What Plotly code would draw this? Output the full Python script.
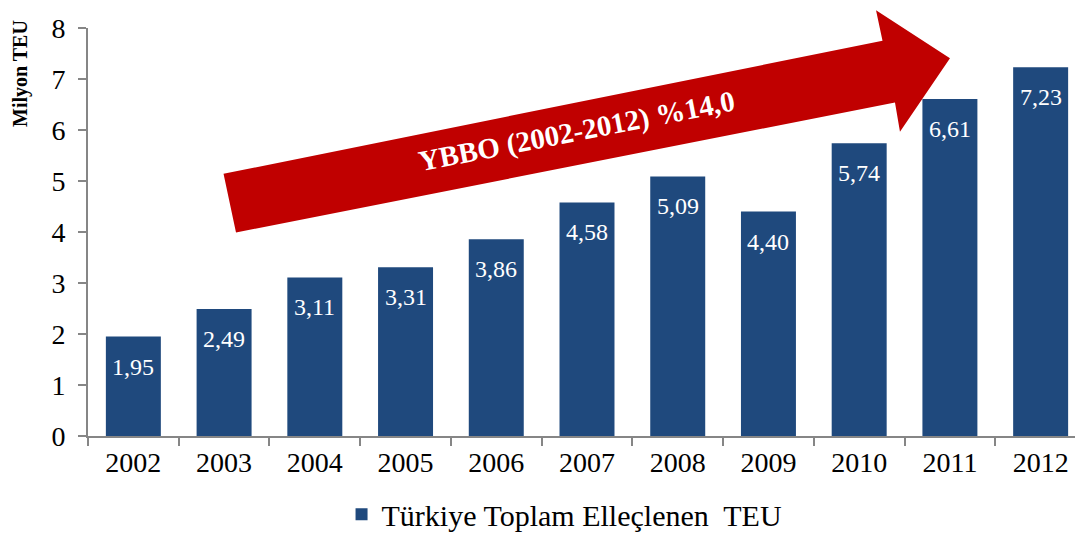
import plotly.graph_objects as go

# --- Dados ---
years = ['2002', '2003', '2004', '2005', '2006', '2007', '2008', '2009', '2010', '2011', '2012']
teu = [1.95, 2.49, 3.11, 3.31, 3.86, 4.58, 5.09, 4.40, 5.74, 6.61, 7.23]
series_name = 'Türkiye Toplam Elleçlenen  TEU'
arrow_label = 'YBBO (2002-2012) %14,0'
y_title = 'Milyon TEU'

BAR_COLOR = '#1F497D'
ARROW_COLOR = '#C00000'
AXIS_COLOR = '#868686'
FONT = 'Liberation Serif, Times New Roman, serif'

# a página tem margem de 8px no body -> compensa
W, H = 1083, 537
OFF = 8
PL, PR, PT, PB = 88, 1086, 21, 438   # área do gráfico em pixels da página
PW, PH = PR - PL, PB - PT
L, T = PL - OFF, PT - OFF
R, B = W - L - PW, H - T - PH


def px(x, y):
    # pixel da página -> coordenadas paper
    return (x - PL) / PW, (PB - y) / PH


fig = go.Figure()
fig.add_trace(go.Bar(
    x=years, y=teu,
    name=series_name.replace('  ', '\u00a0 '),  # mantém o espaço duplo
    marker=dict(color=BAR_COLOR, line=dict(width=0)),
))

# etiquetas dentro das barras (índice da categoria, para não virar número 2002)
for i, v in enumerate(teu):
    fig.add_annotation(
        x=i, y=v, text=f'{v:.2f}'.replace('.', ','), showarrow=False,
        xanchor='center', yanchor='middle', yshift=-30,
        font=dict(family=FONT, size=24, color='white'),
    )

# seta vermelha
pts = [(223.5, 170), (882.5, 34), (876, 3), (950, 52), (900, 127), (895, 97), (236, 230)]
path = 'M ' + ' L '.join(f'{px(a, b)[0]:.4f},{px(a, b)[1]:.4f}' for a, b in pts) + ' Z'
fig.add_shape(type='path', path=path, xref='paper', yref='paper',
              fillcolor=ARROW_COLOR, line=dict(width=0), layer='below')

tx, ty = px(576, 127)
fig.add_annotation(x=tx, y=ty, xref='paper', yref='paper', text=f'<b>{arrow_label}</b>',
                   showarrow=False, textangle=-11, xanchor='center', yanchor='middle',
                   font=dict(family=FONT, size=29, color='white'))

ax, ay = px(21, 68)
fig.add_annotation(x=ax, y=ay, xref='paper', yref='paper', text=f'<b>{y_title}</b>',
                   showarrow=False, textangle=-90, xanchor='center', yanchor='middle',
                   font=dict(family=FONT, size=20, color='black'))

fig.update_layout(
    width=W, height=H,
    margin=dict(l=L, r=R, t=T, b=B),
    paper_bgcolor='white', plot_bgcolor='white',
    font=dict(family=FONT, size=28, color='black'),
    bargap=0.394,
    showlegend=True,
    legend=dict(orientation='h', x=0.4775, xanchor='center', y=-0.128, yanchor='top',
                font=dict(family=FONT, size=30)),
    xaxis=dict(type='category', range=[-0.5, len(years) - 0.5], showline=True,
               linecolor=AXIS_COLOR, linewidth=2,
               ticks='outside', tickson='boundaries', ticklen=8, tickcolor=AXIS_COLOR,
               tickwidth=2, showgrid=False, tickfont=dict(size=28)),
    yaxis=dict(range=[0, 8], dtick=1, showline=True, linecolor=AXIS_COLOR, linewidth=2,
               ticks='outside', ticklen=8, tickcolor=AXIS_COLOR, tickwidth=2,
               showgrid=False, zeroline=False, ticklabelstandoff=7,
               ticklabeloverflow='allow', tickfont=dict(size=28)),
)

fig.write_html('out.html')
